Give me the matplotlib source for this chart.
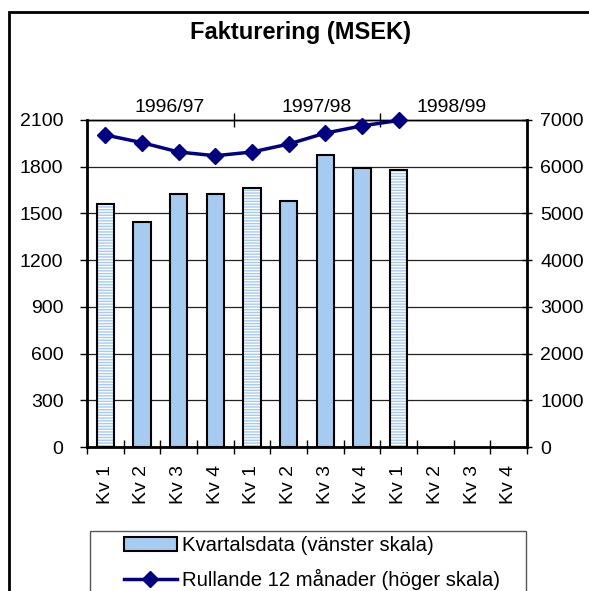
import matplotlib
matplotlib.use("Agg")
import matplotlib.pyplot as plt
import numpy as np
from matplotlib.patches import Rectangle, Patch
from matplotlib.lines import Line2D

plt.rcParams['font.family'] = ['Liberation Sans', 'DejaVu Sans']

# ---- data ----
categories = ["Kv 1", "Kv 2", "Kv 3", "Kv 4",
              "Kv 1", "Kv 2", "Kv 3", "Kv 4",
              "Kv 1", "Kv 2", "Kv 3", "Kv 4"]
years = ["1996/97", "1997/98", "1998/99"]
quarterly = [1560, 1445, 1625, 1625, 1663, 1580, 1875, 1792, 1779,
             np.nan, np.nan, np.nan]
rolling12 = [6680, 6515, 6315, 6235, 6315, 6485, 6720, 6875, 6990,
             np.nan, np.nan, np.nan]
title = "Fakturering (MSEK)"
legend_labels = ["Kvartalsdata (vänster skala)", "Rullande 12 månader (höger skala)"]

BAR = "#A6CAF0"
NAVY = "#000080"
W, H = 589, 591

fig = plt.figure(figsize=(W / 100, H / 100), dpi=100)
ax = fig.add_axes([87 / W, 1 - 447 / H, 440 / W, 327 / H])

x = np.arange(len(categories))
q = np.array(quarterly, dtype=float)
hatched = np.array([c == "Kv 1" for c in categories])

# solid bars
ax.bar(x[~hatched], q[~hatched], width=0.47, color=BAR, edgecolor="black",
       linewidth=1.5, zorder=2)
# hatched (Kv 1) bars
ax.bar(x[hatched], q[hatched], width=0.47, color="white", edgecolor=BAR,
       hatch="-" * 6, linewidth=0, zorder=2)
ax.bar(x[hatched], q[hatched], width=0.47, fill=False, edgecolor="black",
       linewidth=1.5, zorder=3)

ax.set_xlim(-0.5, len(categories) - 0.5)
ax.set_ylim(0, 2100)
ax.set_yticks(np.arange(0, 2101, 300))
ax.set_axisbelow(True)
ax.yaxis.grid(True, color="#222222", linewidth=0.9)
ax.tick_params(axis="y", direction="out", length=5, width=1, labelsize=14, pad=12)

# bottom: ticks at boundaries, labels at centers
ax.set_xticks(np.arange(-0.5, len(categories), 1.0))
ax.set_xticklabels([])
ax.set_xticks(x, minor=True)
ax.set_xticklabels(categories, minor=True, rotation=90, fontsize=14)
ax.tick_params(axis="x", which="major", direction="inout", length=10, width=1)
ax.tick_params(axis="x", which="minor", length=0, pad=13)

for s in ["left", "bottom"]:
    ax.spines[s].set_linewidth(2)
ax.spines["top"].set_linewidth(1)
ax.spines["right"].set_visible(False)

# top: year groups
top = ax.secondary_xaxis("top")
top.set_xticks([3.5, 7.5])
top.set_xticklabels([])
top.set_xticks([1.75, 5.75, 9.45], minor=True)
top.set_xticklabels(years, minor=True, fontsize=14)
top.tick_params(axis="x", which="major", direction="inout", length=10, width=1)
top.tick_params(axis="x", which="minor", length=0, pad=3)
top.spines["top"].set_linewidth(1)

# right axis line
ax2 = ax.twinx()
ax2.plot(x, rolling12, color=NAVY, linewidth=2.5, marker="D", markersize=8.5,
         zorder=5, clip_on=False)
ax2.set_ylim(0, 7000)
ax2.set_yticks(np.arange(0, 7001, 1000))
ax2.tick_params(axis="y", direction="inout", length=7, width=1, labelsize=14, pad=6)
ax2.spines["right"].set_linewidth(2)
for s in ["left", "top", "bottom"]:
    ax2.spines[s].set_visible(False)

# title
fig.text(300 / W, 1 - 33 / H, title, ha="center", va="center",
         fontsize=17, fontweight="bold")

# legend
handles = [Patch(facecolor=BAR, edgecolor="black", linewidth=1.5),
           Line2D([], [], color=NAVY, linewidth=2.5, marker="D", markersize=8.5)]
fig.legend(handles, legend_labels, loc="upper left",
           bbox_to_anchor=(124 / W, 1 - 536 / H), frameon=False,
           fontsize=14.6, handlelength=2.6, handletextpad=0.25,
           borderpad=0, borderaxespad=0, labelspacing=0.68)

# legend frame and outer chart border
fig.add_artist(Rectangle((90 / W, 1 - 640 / H), 436 / W, 109 / H,
                         transform=fig.transFigure, fill=False,
                         edgecolor="#555555", linewidth=1))
fig.add_artist(Rectangle((9 / W, 1 - 640 / H), 620 / W, 628 / H,
                         transform=fig.transFigure, fill=False,
                         edgecolor="black", linewidth=2))

fig.savefig("out.png", dpi=100)
